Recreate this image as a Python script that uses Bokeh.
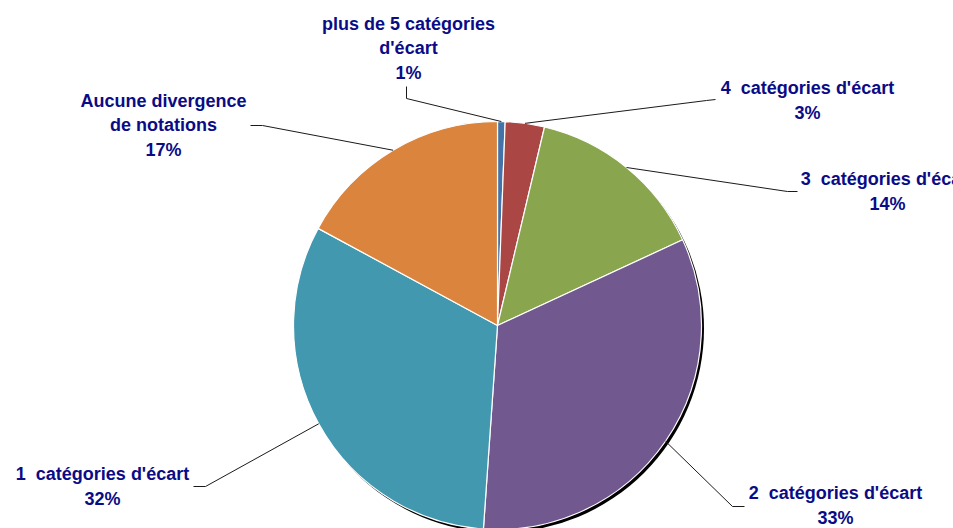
import numpy as np
from bokeh.plotting import figure
from bokeh.models import Range1d, ColumnDataSource
from bokeh.core.properties import value
from bokeh.embed import file_html
from bokeh.resources import INLINE

# ---- data ----
categories = [
    "plus de 5 catégories\nd'écart",
    "4\u00a0 catégories d'écart",
    "3\u00a0 catégories d'écart",
    "2\u00a0 catégories d'écart",
    "1\u00a0 catégories d'écart",
    "Aucune divergence\nde notations",
]
shares = [0.6, 3.1, 14.4, 33.0, 31.8, 17.1]
colors = ["#4572A7", "#AA4643", "#89A54E", "#71588F", "#4198AF", "#DB843D"]

# ---- layout (screen px of the 953x528 page) ----
W, H = 953, 528
CX, CY, R = 497, 325, 204          # pie centre / radius in page px
# label block centres and leader elbow/end points (page px)
label_xy = [(408, 48), (807, 100), (887, 191), (835, 505), (102, 486), (163, 125)]
elbow_xy = [(406, 98), (706, 100), (787, 191), (732, 506), (205, 486), (262, 125)]
end_xy = [(406, 86), (715, 99), (797, 191), (744, 506), (193, 486), (250, 125)]


def fy(y):
    return H - y


p = figure(width=W, height=H, output_backend="svg", toolbar_location=None,
           x_range=Range1d(0, W), y_range=Range1d(0, H),
           min_border=0, min_border_left=0, min_border_right=0,
           min_border_top=0, min_border_bottom=0)
p.axis.visible = False
p.grid.visible = False
p.outline_line_color = None
p.background_fill_color = "white"
p.border_fill_color = "white"

vals = np.array(shares, dtype=float)
frac = vals / vals.sum()
cum = np.concatenate([[0], np.cumsum(frac)])
start = np.pi / 2 - cum[:-1] * 2 * np.pi
end = np.pi / 2 - cum[1:] * 2 * np.pi
mid = (start + end) / 2

# shadow
p.circle(x=[CX + 2.5], y=[fy(CY) - 3], radius=R, fill_color="black",
         line_color=None)

src = ColumnDataSource(dict(start=start, end=end, color=colors))
p.wedge(x=CX, y=fy(CY), radius=R, start_angle="start", end_angle="end",
        direction="clock", fill_color="color", line_color="white",
        line_width=1.2, source=src)

# leader lines
xs, ys = [], []
for m, (ex, ey), (tx, ty) in zip(mid, elbow_xy, end_xy):
    sx = CX + R * np.cos(m)
    sy = fy(CY) + R * np.sin(m)
    xs.append([sx, ex, tx])
    ys.append([sy, fy(ey), fy(ty)])
p.multi_line(xs=xs, ys=ys, line_color="#1a1a1a", line_width=1)

texts = [f"{c}\n{v:.0f}%" for c, v in zip(categories, shares)]
p.text(x=[a for a, b in label_xy], y=[fy(b) for a, b in label_xy], text=texts,
       text_align="center", text_baseline="middle",
       text_font=value("Liberation Sans"), text_font_style="bold",
       text_font_size="18px", text_color="#0b0b86", text_line_height=1.22)

open("out.html", "w").write(file_html(p, INLINE))
